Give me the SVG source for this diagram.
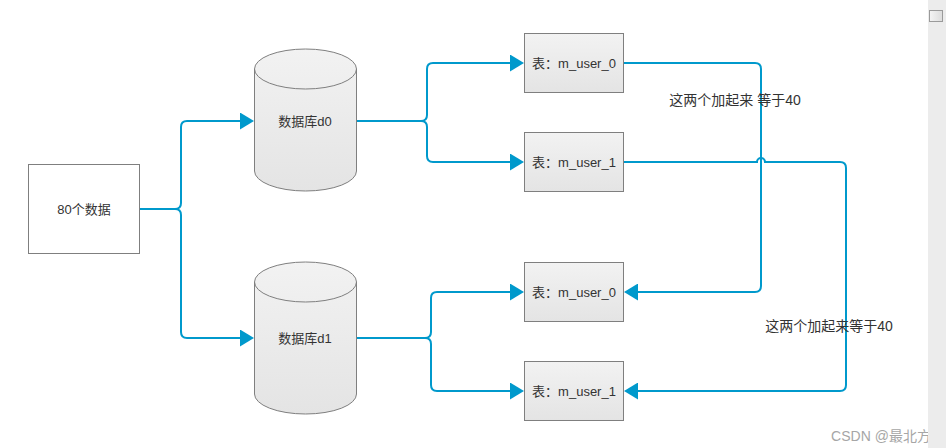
<svg xmlns="http://www.w3.org/2000/svg" width="946" height="448" viewBox="0 0 946 448">
<defs>
<linearGradient id="g" x1="0" y1="0" x2="0" y2="1">
<stop offset="0" stop-color="#f2f2f2"/>
<stop offset="1" stop-color="#e4e4e4"/>
</linearGradient>
<linearGradient id="thumb" x1="0" y1="0" x2="1" y2="0">
<stop offset="0" stop-color="#f4f4f4"/>
<stop offset="1" stop-color="#dcdcdc"/>
</linearGradient>
<marker id="arr" markerUnits="userSpaceOnUse" markerWidth="14" markerHeight="17" viewBox="0 0 14 17" refX="10" refY="8.5" orient="auto">
<path d="M0,0 L14,8.5 L0,17 Z" fill="#0099cc"/>
</marker>
</defs>
<style>
.shape{fill:url(#g);stroke:#7f7f7f;stroke-width:1}
.box{fill:#ffffff;stroke:#7f7f7f;stroke-width:1}
.edge{fill:none;stroke:#0099cc;stroke-width:2;marker-end:url(#arr)}
.t{font-family:"Liberation Sans","Noto Sans CJK SC",sans-serif;font-size:13px;fill:#333333;text-anchor:middle;dominant-baseline:central}
.lbl{font-family:"Liberation Sans","Noto Sans CJK SC",sans-serif;font-size:14px;fill:#333333;text-anchor:middle;dominant-baseline:central}
</style>
<rect width="946" height="448" fill="#ffffff"/>

<g id="connectors">
<path class="edge" d="M139,209 H175 Q181,209 181,203 V127 Q181,121 187,121 H250"/>
<path class="edge" d="M139,209 H175 Q181,209 181,215 V332 Q181,338 187,338 H250"/>
<path class="edge" d="M356,121 H421 Q427,121 427,115 V69 Q427,63 433,63 H520"/>
<path class="edge" d="M356,121 H421 Q427,121 427,127 V156 Q427,162 433,162 H520"/>
<path class="edge" d="M356,338 H425 Q431,338 431,332 V298 Q431,292 437,292 H520"/>
<path class="edge" d="M356,338 H425 Q431,338 431,344 V385 Q431,391 437,391 H520"/>
<path class="edge" d="M623,63 H755 Q761,63 761,69 V286 Q761,292 755,292 H628"/>
<path class="edge" d="M623,162 H757 A4,4 0 0 1 765,162 H840 Q846,162 846,168 V385 Q846,391 840,391 H628"/>
</g>

<g id="src">
<rect class="box" x="28.5" y="164.5" width="111" height="89"/>
<text class="t" x="84" y="209">80个数据</text>
</g>

<g id="db0">
<path class="shape" d="M254.5,69 A51,20 0 0 1 356.5,69 L356.5,171 A51,20 0 0 1 254.5,171 Z"/>
<path d="M254.5,69 A51,20 0 0 0 356.5,69" fill="none" stroke="#7f7f7f"/>
<text class="t" x="305" y="121">数据库d0</text>
</g>

<g id="db1">
<path class="shape" d="M254.5,282 A51,20 0 0 1 356.5,282 L356.5,394 A51,20 0 0 1 254.5,394 Z"/>
<path d="M254.5,282 A51,20 0 0 0 356.5,282" fill="none" stroke="#7f7f7f"/>
<text class="t" x="305" y="338">数据库d1</text>
</g>

<g id="t00">
<rect class="shape" x="524.5" y="33.5" width="99" height="59"/>
<text class="t" x="574" y="63">表：m_user_0</text>
</g>
<g id="t01">
<rect class="shape" x="524.5" y="132.5" width="99" height="59"/>
<text class="t" x="574" y="162">表：m_user_1</text>
</g>
<g id="t10">
<rect class="shape" x="524.5" y="262.5" width="99" height="59"/>
<text class="t" x="574" y="292">表：m_user_0</text>
</g>
<g id="t11">
<rect class="shape" x="524.5" y="361.5" width="99" height="59"/>
<text class="t" x="574" y="391">表：m_user_1</text>
</g>

<g id="label1">
<text class="lbl" x="735" y="100">这两个加起来 等于40</text>
</g>
<g id="label2">
<text class="lbl" x="829" y="326">这两个加起来等于40</text>
</g>

<text x="881" y="441" font-family="Liberation Sans,'Noto Sans CJK SC',sans-serif" font-size="14" fill="#a6a6a6" text-anchor="middle">CSDN @最北方</text>

<rect x="928" y="0" width="18" height="448" fill="#ececec"/>
<rect x="929.5" y="10.5" width="13" height="11" fill="url(#thumb)" stroke="#9a9a9a"/>
</svg>
